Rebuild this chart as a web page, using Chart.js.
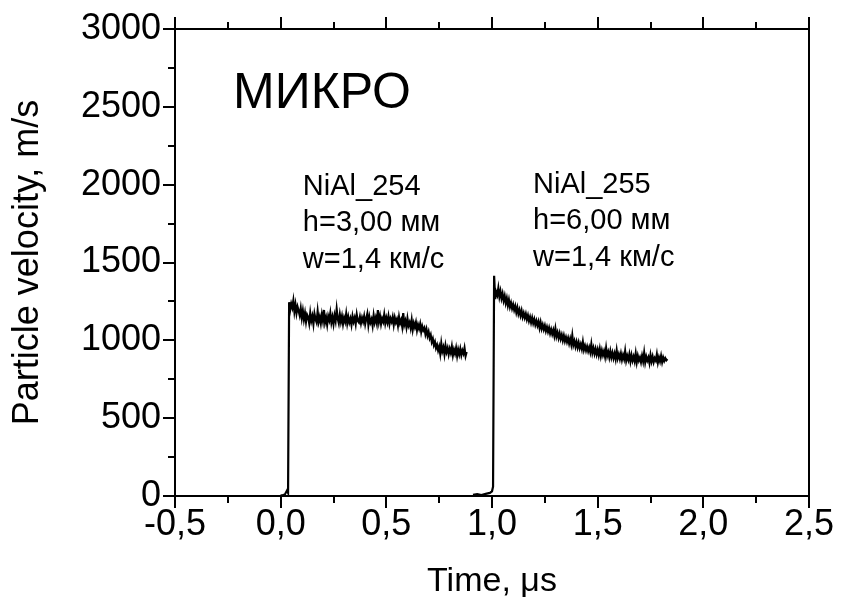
<!DOCTYPE html>
<html>
<head>
<meta charset="utf-8">
<script src="https://cdn.jsdelivr.net/npm/chart.js@4/dist/chart.umd.min.js"></script>
<style>
  html, body { margin: 0; padding: 0; background: #fff; }
  #wrap { width: 842px; height: 607px; }
</style>
</head>
<body>
<div id="wrap"><canvas id="c" width="842" height="607"></canvas></div>
<script>
// Shot NiAl_254: time (µs) and particle velocity (m/s)
const times254 = [0.000, 0.010, 0.020, 0.030, 0.035,
  0.040, 0.045, 0.050, 0.055, 0.060, 0.065, 0.070, 0.075, 0.080, 0.085,
  0.090, 0.095, 0.100, 0.105, 0.110, 0.115, 0.120, 0.125, 0.130, 0.135,
  0.140, 0.145, 0.150, 0.155, 0.160, 0.165, 0.170, 0.175, 0.180, 0.185,
  0.190, 0.195, 0.200, 0.205, 0.210, 0.215, 0.220, 0.225, 0.230, 0.235,
  0.240, 0.245, 0.250, 0.255, 0.260, 0.265, 0.270, 0.275, 0.280, 0.285,
  0.290, 0.295, 0.300, 0.305, 0.310, 0.315, 0.320, 0.325, 0.330, 0.335,
  0.340, 0.345, 0.350, 0.355, 0.360, 0.365, 0.370, 0.375, 0.380, 0.385,
  0.390, 0.395, 0.400, 0.405, 0.410, 0.415, 0.420, 0.425, 0.430, 0.435,
  0.440, 0.445, 0.450, 0.455, 0.460, 0.465, 0.470, 0.475, 0.480, 0.485,
  0.490, 0.495, 0.500, 0.505, 0.510, 0.515, 0.520, 0.525, 0.530, 0.535,
  0.540, 0.545, 0.550, 0.555, 0.560, 0.565, 0.570, 0.575, 0.580, 0.585,
  0.590, 0.595, 0.600, 0.605, 0.610, 0.615, 0.620, 0.625, 0.630, 0.635,
  0.640, 0.645, 0.650, 0.655, 0.660, 0.665, 0.670, 0.675, 0.680, 0.685,
  0.690, 0.695, 0.700, 0.705, 0.710, 0.715, 0.720, 0.725, 0.730, 0.735,
  0.740, 0.745, 0.750, 0.755, 0.760, 0.765, 0.770, 0.775, 0.780, 0.785,
  0.790, 0.795, 0.800, 0.805, 0.810, 0.815, 0.820, 0.825, 0.830, 0.835,
  0.840, 0.845, 0.850, 0.855, 0.860, 0.865, 0.870, 0.875, 0.880];
const velocity254 = [4, 6, 10, 35, 20,
  1245, 1195, 1235, 1210, 1255, 1185, 1230, 1175, 1215, 1190,
  1160, 1205, 1145, 1190, 1135, 1175, 1120, 1165, 1150, 1110,
  1175, 1125, 1155, 1105, 1170, 1135, 1115, 1185, 1120, 1150,
  1110, 1165, 1125, 1195, 1115, 1145, 1100, 1155, 1130, 1175,
  1115, 1150, 1105, 1160, 1125, 1200, 1140, 1110, 1165, 1120,
  1155, 1105, 1145, 1120, 1170, 1110, 1150, 1115, 1140, 1100,
  1155, 1120, 1145, 1105, 1165, 1125, 1115, 1150, 1110, 1145,
  1120, 1155, 1105, 1140, 1170, 1100, 1150, 1115, 1135, 1095,
  1160, 1115, 1145, 1110, 1195, 1120, 1155, 1105, 1140, 1120,
  1165, 1110, 1145, 1115, 1155, 1105, 1140, 1120, 1150, 1100,
  1145, 1115, 1135, 1095, 1150, 1110, 1130, 1090, 1175, 1100,
  1125, 1085, 1140, 1095, 1115, 1080, 1130, 1070, 1110, 1085,
  1115, 1065, 1100, 1075, 1105, 1055, 1090, 1065, 1080, 1040,
  1070, 1030, 1055, 1015, 1035, 990, 1010, 970, 990, 950,
  970, 935, 960, 915, 980, 930, 955, 910, 965, 925,
  950, 910, 945, 920, 960, 905, 940, 915, 950, 900,
  940, 910, 945, 905, 935, 915, 950, 900, 925];

// Shot NiAl_255
const times255 = [0.910, 0.930, 0.950, 0.970, 0.990, 1.000, 1.005,
  1.010, 1.015, 1.020, 1.025, 1.030, 1.035, 1.040, 1.045, 1.050, 1.055,
  1.060, 1.065, 1.070, 1.075, 1.080, 1.085, 1.090, 1.095, 1.100, 1.105,
  1.110, 1.115, 1.120, 1.125, 1.130, 1.135, 1.140, 1.145, 1.150, 1.155,
  1.160, 1.165, 1.170, 1.175, 1.180, 1.185, 1.190, 1.195, 1.200, 1.205,
  1.210, 1.215, 1.220, 1.225, 1.230, 1.235, 1.240, 1.245, 1.250, 1.255,
  1.260, 1.265, 1.270, 1.275, 1.280, 1.285, 1.290, 1.295, 1.300, 1.305,
  1.310, 1.315, 1.320, 1.325, 1.330, 1.335, 1.340, 1.345, 1.350, 1.355,
  1.360, 1.365, 1.370, 1.375, 1.380, 1.385, 1.390, 1.395, 1.400, 1.405,
  1.410, 1.415, 1.420, 1.425, 1.430, 1.435, 1.440, 1.445, 1.450, 1.455,
  1.460, 1.465, 1.470, 1.475, 1.480, 1.485, 1.490, 1.495, 1.500, 1.505,
  1.510, 1.515, 1.520, 1.525, 1.530, 1.535, 1.540, 1.545, 1.550, 1.555,
  1.560, 1.565, 1.570, 1.575, 1.580, 1.585, 1.590, 1.595, 1.600, 1.605,
  1.610, 1.615, 1.620, 1.625, 1.630, 1.635, 1.640, 1.645, 1.650, 1.655,
  1.660, 1.665, 1.670, 1.675, 1.680, 1.685, 1.690, 1.695, 1.700, 1.705,
  1.710, 1.715, 1.720, 1.725, 1.730, 1.735, 1.740, 1.745, 1.750, 1.755,
  1.760, 1.765, 1.770, 1.775, 1.780, 1.785, 1.790, 1.795, 1.800, 1.805,
  1.810, 1.815, 1.820, 1.825, 1.830];
const velocity255 = [8, 12, 6, 14, 20, 30, 60,
  1415, 1265, 1310, 1290, 1335, 1280, 1315, 1270, 1300, 1255,
  1285, 1240, 1270, 1225, 1260, 1215, 1240, 1205, 1230, 1195,
  1220, 1180, 1210, 1170, 1195, 1160, 1190, 1150, 1175, 1145,
  1170, 1135, 1160, 1125, 1150, 1115, 1145, 1110, 1135, 1100,
  1125, 1095, 1120, 1080, 1115, 1075, 1100, 1070, 1095, 1060,
  1085, 1055, 1080, 1045, 1070, 1040, 1065, 1030, 1075, 1025,
  1050, 1015, 1045, 1010, 1035, 1000, 1030, 995, 1020, 990,
  1015, 980, 1010, 975, 1030, 970, 995, 960, 990, 955,
  985, 950, 975, 945, 990, 940, 965, 935, 960, 930,
  955, 925, 975, 920, 950, 915, 945, 910, 940, 905,
  945, 900, 935, 905, 930, 895, 950, 900, 925, 890,
  930, 890, 920, 885, 915, 880, 935, 885, 910, 880,
  915, 875, 905, 880, 930, 870, 900, 875, 910, 865,
  905, 870, 895, 865, 915, 860, 900, 870, 890, 860,
  900, 865, 920, 860, 895, 870, 890, 855, 905, 865,
  895, 860, 885, 870, 910, 858, 890, 865, 900, 860,
  890, 868, 885, 872, 880];

// Axis ranges and tick steps
const xRange = [-0.5, 2.5];
const yRange = [0, 3000];
const xMajorStep = 0.5, xMinorStep = 0.25;
const yMajorStep = 500, yMinorStep = 250;

// Text annotations placed in data coordinates
const bigLabel = { x: -0.225, y: 2490, text: 'МИКРО' };
const shotLabels = [
  { x: 0.105, y: 1935, lines: ['NiAl_254', 'h=3,00 мм', 'w=1,4 км/с'] },
  { x: 1.194, y: 1948, lines: ['NiAl_255', 'h=6,00 мм', 'w=1,4 км/с'] }
];

const FONT = '"Liberation Sans", Arial, sans-serif';

function toPoints(xs, ys) { return xs.map((x, i) => ({ x: x, y: ys[i] })); }

// Frame, tick marks and annotation text
const decorations = {
  id: 'decorations',
  afterDatasetsDraw(chart) {
    const { ctx, chartArea: a, scales: { x, y } } = chart;
    ctx.save();
    ctx.strokeStyle = '#000';
    ctx.lineWidth = 2;
    ctx.lineCap = 'butt';
    ctx.beginPath();
    // bottom and top x ticks (outward)
    for (let v = xRange[0]; v <= xRange[1] + 1e-9; v += xMinorStep) {
      const px = Math.round(x.getPixelForValue(v));
      const major = Math.abs(v / xMajorStep - Math.round(v / xMajorStep)) < 1e-6;
      const len = major ? 12 : 7;
      ctx.moveTo(px, a.bottom); ctx.lineTo(px, a.bottom + len);
      ctx.moveTo(px, a.top); ctx.lineTo(px, a.top - len);
    }
    // left y ticks (outward)
    for (let v = yRange[0]; v <= yRange[1] + 1e-9; v += yMinorStep) {
      const py = Math.round(y.getPixelForValue(v));
      const major = v % yMajorStep === 0;
      const len = major ? 12 : 7;
      ctx.moveTo(a.left, py); ctx.lineTo(a.left - len, py);
    }
    ctx.stroke();
    ctx.strokeRect(a.left, a.top, a.right - a.left, a.bottom - a.top);

    ctx.fillStyle = '#000';
    ctx.textBaseline = 'alphabetic';
    ctx.textAlign = 'left';
    ctx.font = '50px ' + FONT;
    ctx.fillText(bigLabel.text, x.getPixelForValue(bigLabel.x), y.getPixelForValue(bigLabel.y));
    ctx.font = '29px ' + FONT;
    shotLabels.forEach(lbl => {
      const px = x.getPixelForValue(lbl.x);
      const py = y.getPixelForValue(lbl.y);
      lbl.lines.forEach((t, i) => ctx.fillText(t, px, py + i * 36.5));
    });
    ctx.restore();
  }
};

new Chart(document.getElementById('c'), {
  type: 'line',
  data: {
    datasets: [
      { label: 'NiAl_254', data: toPoints(times254, velocity254) },
      { label: 'NiAl_255', data: toPoints(times255, velocity255) }
    ]
  },
  options: {
    responsive: false,
    animation: false,
    devicePixelRatio: 1,
    layout: { padding: { top: 29, right: 33, left: 0, bottom: 0 } },
    elements: {
      line: { borderColor: '#000', borderWidth: 2.2, tension: 0, fill: false },
      point: { radius: 0, hoverRadius: 0 }
    },
    plugins: { legend: { display: false }, tooltip: { enabled: false }, title: { display: false } },
    scales: {
      x: {
        type: 'linear',
        min: xRange[0], max: xRange[1],
        grid: { display: false, drawTicks: false },
        border: { display: false },
        ticks: {
          stepSize: xMajorStep,
          padding: 7,
          color: '#000',
          font: { family: FONT, size: 36 },
          maxRotation: 0,
          callback: v => v.toFixed(1).replace('.', ',')
        },
        title: {
          display: true, text: 'Time, μs', color: '#000',
          font: { family: FONT, size: 34 }, padding: { top: 0, bottom: 5 }
        },
        afterFit: s => { s.height = 111; s.paddingLeft = 0; s.paddingRight = 0; }
      },
      y: {
        type: 'linear',
        min: yRange[0], max: yRange[1],
        grid: { display: false, drawTicks: false },
        border: { display: false },
        ticks: {
          stepSize: yMajorStep,
          padding: 14,
          color: '#000',
          font: { family: FONT, size: 36 },
          callback: v => String(v)
        },
        title: {
          display: true, text: 'Particle velocity, m/s', color: '#000',
          font: { family: FONT, size: 36 }, padding: { top: 6, bottom: 0 }
        },
        afterFit: s => { s.width = 175; s.paddingTop = 0; s.paddingBottom = 0; }
      }
    }
  },
  plugins: [decorations]
});
</script>
</body>
</html>
